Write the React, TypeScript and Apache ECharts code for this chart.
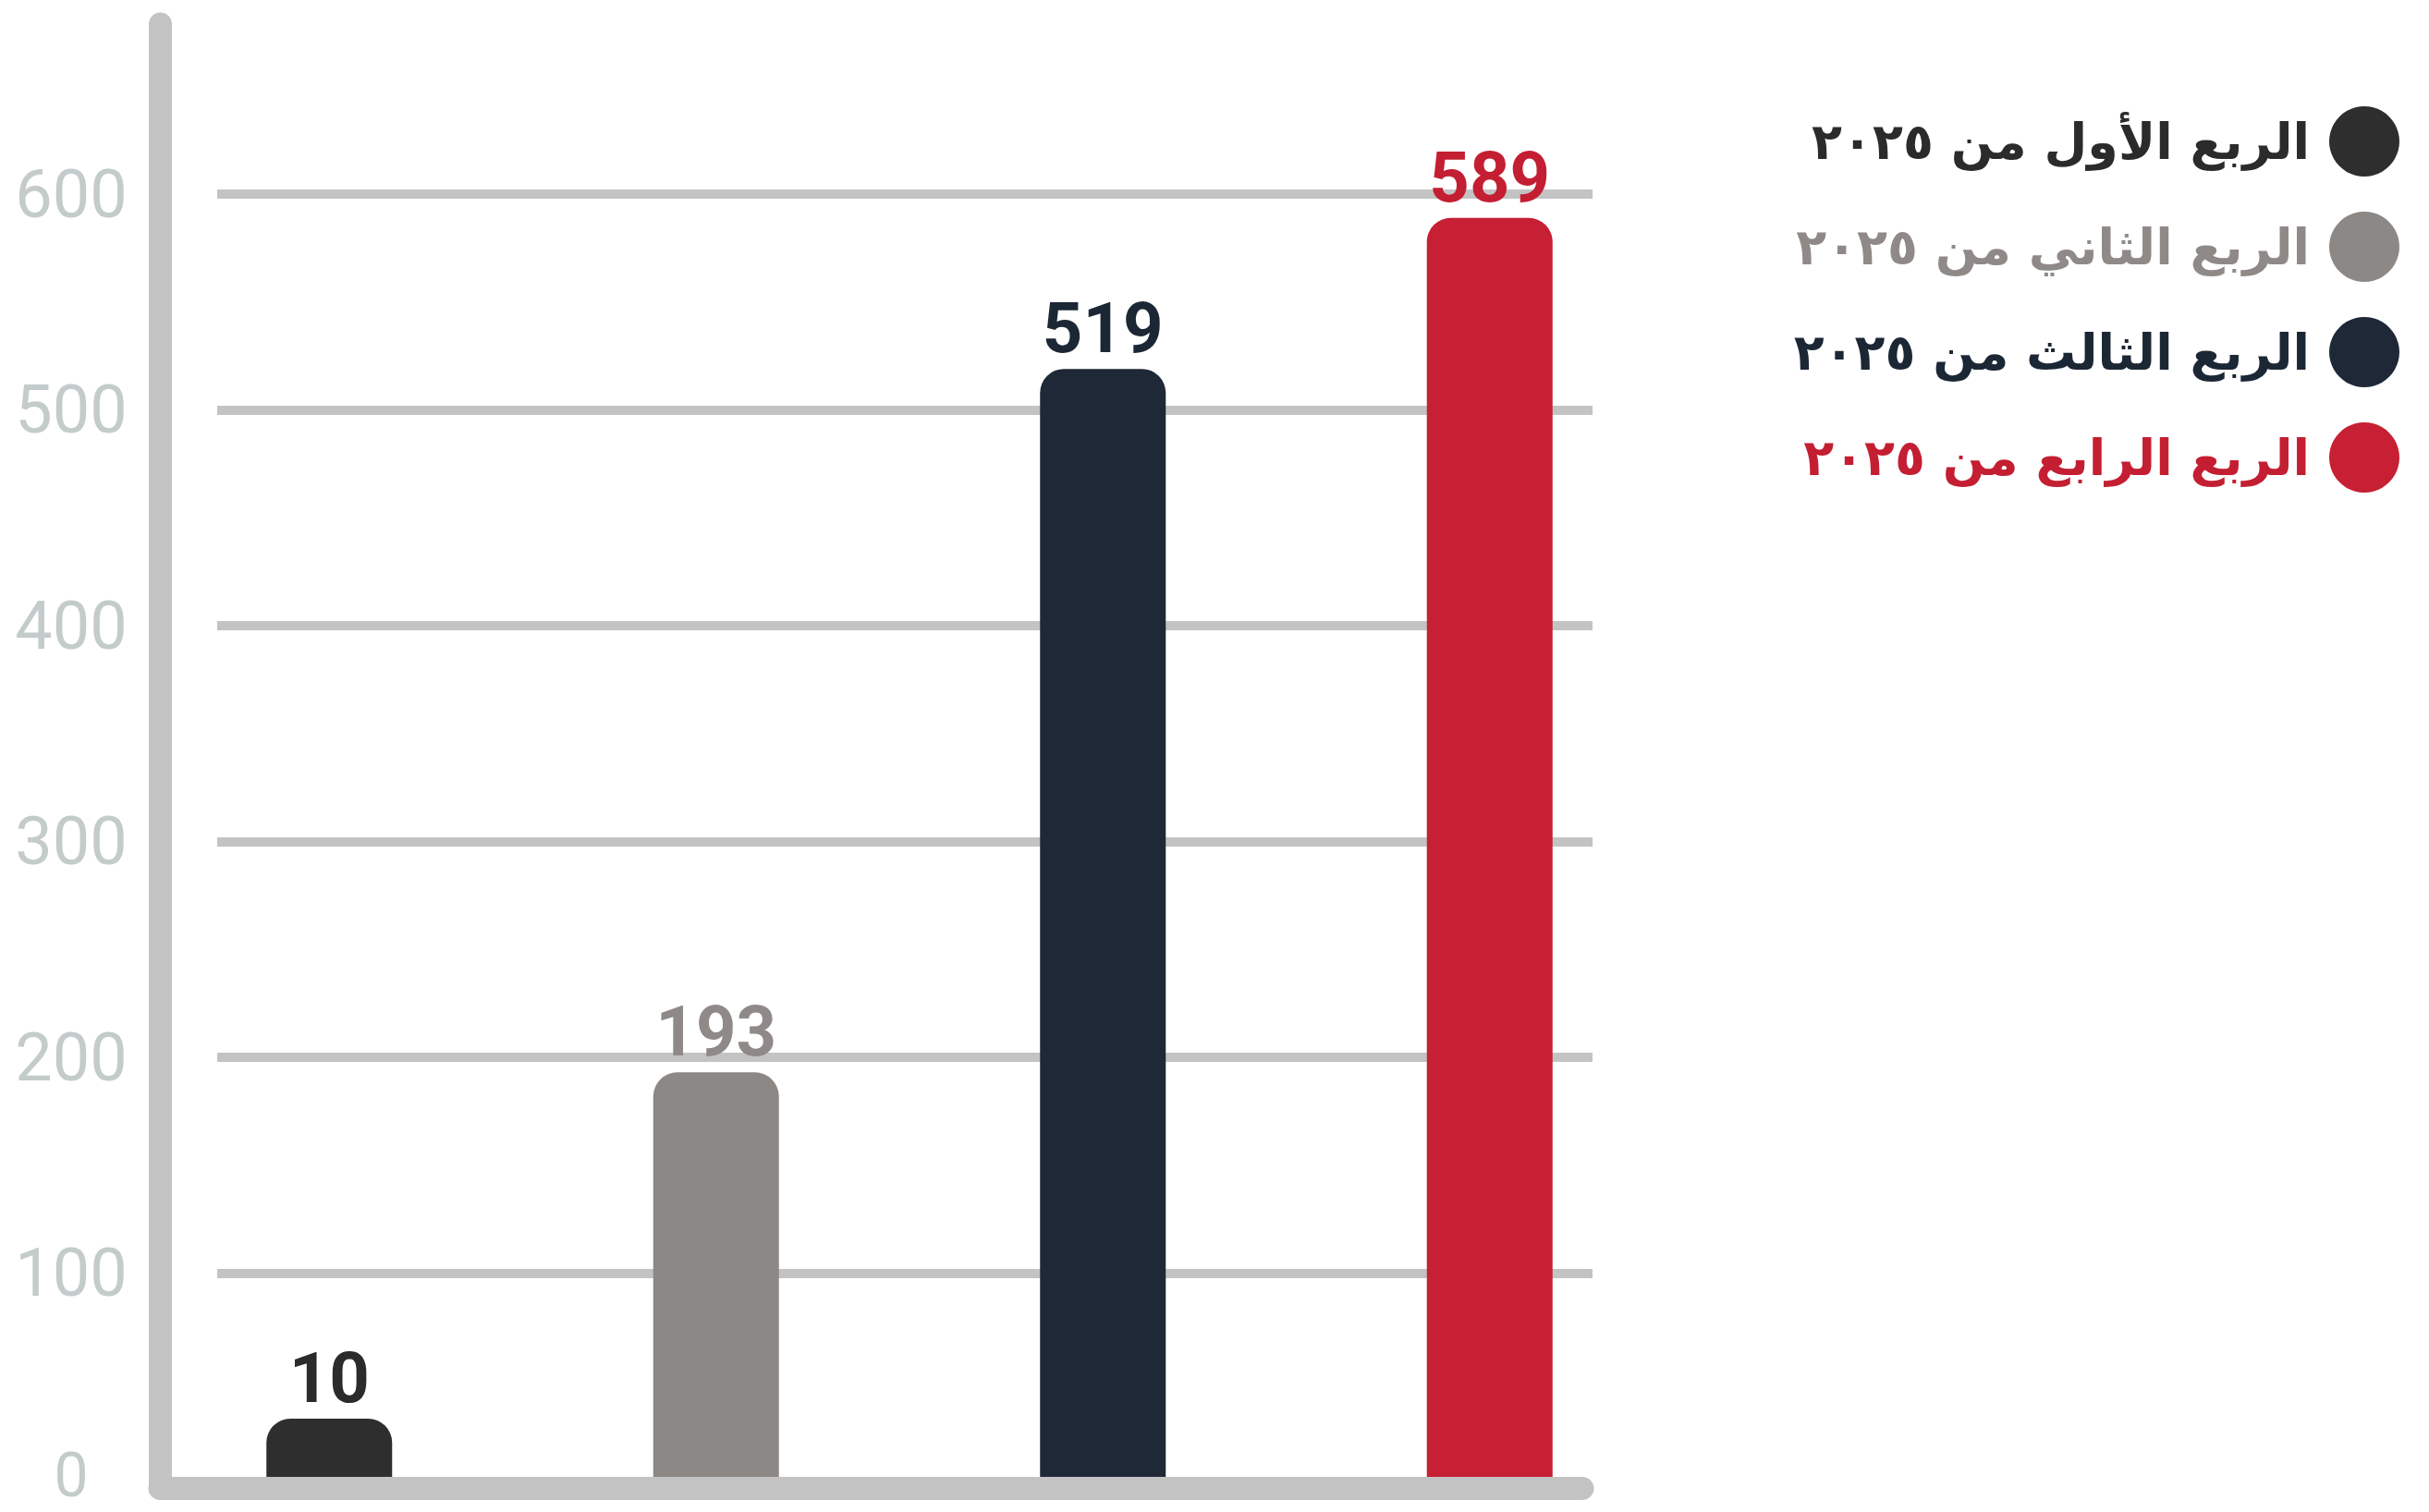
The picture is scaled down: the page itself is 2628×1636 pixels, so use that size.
import React, { useEffect, useRef } from "react";
import * as echarts from "echarts";

const seriesNames = [
  "الربع الأول من ٢٠٢٥",
  "الربع الثاني من ٢٠٢٥",
  "الربع الثالث من ٢٠٢٥",
  "الربع الرابع من ٢٠٢٥",
];
const seriesValues = [10, 193, 519, 589];
const barColors = ["#2e2e2e", "#8c8886", "#1e2836", "#c71f33"];
const legendTextColors = ["#2b2b2b", "#8f8a88", "#1c2735", "#c41e32"];
const categories = ["Q1", "Q2", "Q3", "Q4"];
const yMin = 0;
const yMax = 600;
const yInterval = 100;

export default function App() {
  const ref = useRef<HTMLDivElement>(null);
  useEffect(() => {
    if (!ref.current) return;
    const chart = echarts.init(ref.current, null, { renderer: "svg" });
    const gridColor = "#c3c3c3";
    const series = seriesNames.map((name, i) => ({
      name,
      type: "bar",
      xAxisIndex: 1,
      yAxisIndex: 1,
      barWidth: 136,
      barGap: "-100%",
      barMinHeight: 76,
      data: categories.map((_, j) => (j === i ? seriesValues[i] : "-")),
      itemStyle: { color: barColors[i], borderRadius: [26, 26, 0, 0] },
      label: {
        show: true,
        position: "top",
        distance: 6,
        color: legendTextColors[i],
        fontSize: 76,
        fontWeight: "bold",
        fontFamily: "Roboto",
      },
      z: 2,
    }));
    chart.setOption({
      animation: false,
      backgroundColor: "#ffffff",
      grid: [
        { left: 235, right: 905, top: 210, bottom: 25, outerBoundsMode: "none", containLabel: false },
        { left: 147, right: 807, top: 210, bottom: 25, outerBoundsMode: "none", containLabel: false },
        { left: 173, right: 916, top: 26, bottom: 26, outerBoundsMode: "none", containLabel: false },
      ],
      xAxis: [
        { type: "value", gridIndex: 0, show: false, min: 0, max: 1 },
        { type: "category", gridIndex: 1, show: false, data: categories },
        {
          type: "value",
          gridIndex: 2,
          min: 0,
          max: 1,
          z: 10,
          axisLine: { show: true, onZero: false, lineStyle: { color: gridColor, width: 25, cap: "round" } },
          axisTick: { show: false },
          axisLabel: { show: false },
          splitLine: { show: false },
        },
      ],
      yAxis: [
        {
          type: "value",
          gridIndex: 0,
          min: yMin,
          max: yMax,
          interval: yInterval,
          axisLine: { show: false },
          axisTick: { show: false },
          axisLabel: {
            align: "center",
            margin: 158,
            fontSize: 72,
            color: "#c4cbcb",
            fontFamily: "Roboto",
            formatter: (v: number) => (v === 0 ? "{zero|0}" : "{n|" + v + "}"),
            rich: {
              n: { fontSize: 72, color: "#c4cbcb", fontFamily: "Roboto" },
              zero: {
                fontSize: 66,
                lineHeight: 60,
                color: "#c4cbcb",
                fontFamily: "Roboto",
                padding: [0, 0, 30, 0],
              },
            },
          },
          splitLine: { show: true, lineStyle: { color: gridColor, width: 10 } },
        },
        { type: "value", gridIndex: 1, min: yMin, max: yMax, show: false },
        {
          type: "value",
          gridIndex: 2,
          min: 0,
          max: 1,
          z: 10,
          axisLine: { show: true, onZero: false, lineStyle: { color: gridColor, width: 25, cap: "round" } },
          axisTick: { show: false },
          axisLabel: { show: false },
          splitLine: { show: false },
        },
      ],
      legend: {
        orient: "vertical",
        right: 27,
        top: 110,
        align: "right",
        icon: "circle",
        itemWidth: 76,
        itemHeight: 76,
        itemGap: 38,
        textStyle: {
          fontSize: 54,
          fontWeight: "bold",
          fontFamily: "DejaVu Sans",
          padding: [0, 16, 0, 0],
        },
        data: seriesNames.map((name, i) => ({
          name,
          itemStyle: { color: barColors[i] },
          textStyle: { color: legendTextColors[i] },
        })),
      },
      series,
    });
    return () => chart.dispose();
  }, []);
  return (
    <div
      ref={ref}
      style={{ position: "absolute", left: 0, top: 0, width: 2628, height: 1636 }}
    />
  );
}
